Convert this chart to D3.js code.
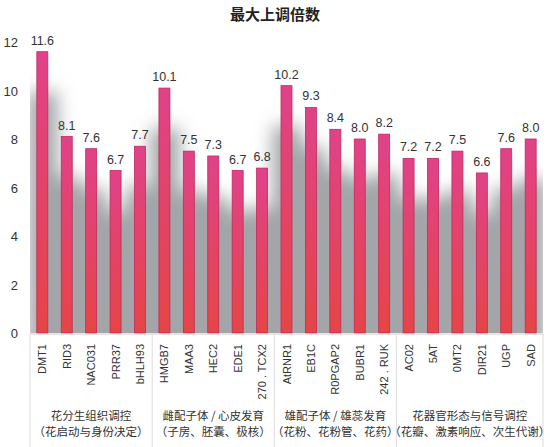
<!DOCTYPE html><html><head><meta charset="utf-8"><script src="https://cdn.jsdelivr.net/npm/d3@7"></script>
<style>body{margin:0;background:#fff;font-family:"Noto Sans CJK SC","Liberation Sans",sans-serif}</style></head><body><svg id="c" width="550" height="447"></svg><script>
const genes=["DMT1","RID3","NAC031","PRR37","bHLH93","HMGB7","MAA3","HEC2","EDE1","270 . TCX2","AtRNR1","EB1C","R0PGAP2","BUBR1","242 . RUK","AC02","5AT","0MT2","DIR21","UGP","SAD"];
const values=[11.6,8.1,7.6,6.7,7.7,10.1,7.5,7.3,6.7,6.8,10.2,9.3,8.4,8.0,8.2,7.2,7.2,7.5,6.6,7.6,8.0];
const groups=[["花分生组织调控","（花启动与身份决定）",5],["雌配子体 / 心皮发育","（子房、胚囊、极核）",5],["雄配子体 / 雄蕊发育","（花粉、花粉管、花药）",5],["花器官形态与信号调控","（花瓣、激素响应、次生代谢）",6]];
const yTicks=[0,2,4,6,8,10,12];
const svg=d3.select("#c"),L=30,R=543,T=42,B=333;
const x=d3.scaleBand().domain(genes).range([L,R]).paddingInner(0.55).paddingOuter(0.28);
const y=d3.scaleLinear().domain([0,12]).range([B,T]);
const defs=svg.append("defs");
const g=defs.append("linearGradient").attr("id","bg").attr("x1",0).attr("x2",0).attr("y1",0).attr("y2",1);
g.append("stop").attr("offset",0).attr("stop-color","#e0428a");g.append("stop").attr("offset",1).attr("stop-color","#e64545");
defs.append("filter").attr("id","blur").attr("x","-50%").attr("y","-50%").attr("width","200%").attr("height","200%").append("feGaussianBlur").attr("stdDeviation",9);
defs.append("clipPath").attr("id","clip").append("rect").attr("x",L).attr("y",T-20).attr("width",R-L).attr("height",B-T+20);
svg.append("text").attr("x",275).attr("y",20).attr("text-anchor","middle").attr("font-size",15).attr("font-weight","bold").attr("fill","#222").text("最大上调倍数");
const sh=svg.append("g").attr("clip-path","url(#clip)").append("g").attr("filter","url(#blur)");
sh.selectAll("rect").data(genes).join("rect").attr("x",d=>x(d)-x.step()*0.35).attr("width",x.step()*1.2)
 .attr("y",(d,i)=>y(values[i])+40).attr("height",(d,i)=>B-y(values[i])).attr("fill","#a3a5a8");
svg.append("g").selectAll("text").data(yTicks).join("text").attr("x",18).attr("y",d=>y(d)+5).attr("text-anchor","end").attr("font-size",13).attr("fill","#333").attr("font-family","Liberation Sans").text(d=>d);
svg.append("g").selectAll("rect").data(genes).join("rect").attr("x",d=>x(d)).attr("width",x.bandwidth()).attr("y",(d,i)=>y(values[i])).attr("height",(d,i)=>B-y(values[i])).attr("fill","url(#bg)").attr("stroke","#c02a5a").attr("stroke-width",0.8);
svg.append("g").selectAll("text").data(genes).join("text").attr("x",d=>x(d)+x.bandwidth()/2).attr("y",(d,i)=>y(values[i])-7).attr("text-anchor","middle").attr("font-size",12.5).attr("fill","#333").attr("font-family","Liberation Sans").text((d,i)=>values[i].toFixed(1));
svg.append("line").attr("x1",L).attr("x2",R).attr("y1",B+1).attr("y2",B+1).attr("stroke","#ccc");
let idx=0;const sep=[L];
groups.forEach(gr=>{idx+=gr[2];sep.push(x(genes[idx-1])+x.bandwidth()+x.step()*x.paddingInner()/2);});
sep[sep.length-1]=R;
svg.append("g").selectAll("line").data(sep).join("line").attr("x1",d=>d).attr("x2",d=>d).attr("y1",B+1).attr("y2",447).attr("stroke","#ddd");
svg.append("g").selectAll("text").data(genes).join("text").attr("transform",d=>`translate(${x(d)+x.bandwidth()/2+4},${B+11}) rotate(-90)`).attr("text-anchor","end").attr("font-size",11).attr("fill","#333").attr("font-family","Liberation Sans").text(d=>d);
groups.forEach((gr,i)=>{const cx=(sep[i]+sep[i+1])/2;
 svg.append("text").attr("x",cx).attr("y",420).attr("text-anchor","middle").attr("font-size",11.5).attr("fill","#333").text(gr[0]);
 svg.append("text").attr("x",cx).attr("y",436).attr("text-anchor","middle").attr("font-size",11.5).attr("fill","#333").text(gr[1]);});
</script></body></html>
